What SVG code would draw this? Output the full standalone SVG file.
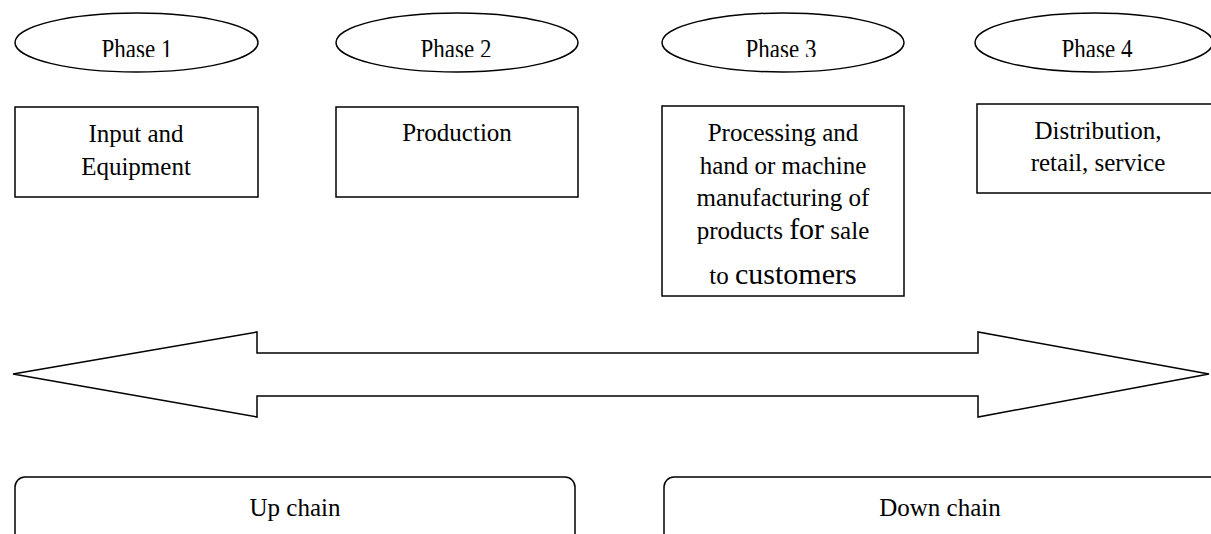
<svg xmlns="http://www.w3.org/2000/svg" width="1211" height="534" viewBox="0 0 1211 534">
  <style>
    .shape { fill: #ffffff; stroke: #000000; stroke-width: 1.5; }
    .label { font-family: "Liberation Serif", "Times New Roman", serif; font-size: 25px; fill: #000000; text-anchor: middle; }
    .phase { font-family: "Liberation Serif", "Times New Roman", serif; font-size: 23px; fill: #000000; text-anchor: middle; }
  </style>
  <defs>
    <!-- phase captions are cut at the baseline of their text frame -->
    <clipPath id="phaseClip"><rect x="0" y="0" width="1211" height="57"/></clipPath>
  </defs>

  <rect width="1211" height="534" fill="#ffffff"/>

  <!-- phase ellipses -->
  <g id="phase1">
    <ellipse class="shape" cx="136.5" cy="42.5" rx="121.5" ry="29.5"/>
    <g clip-path="url(#phaseClip)">
      <text class="phase" transform="translate(137 58) scale(1 1.2)">Phase 1</text>
    </g>
  </g>
  <g id="phase2">
    <ellipse class="shape" cx="457" cy="42.5" rx="121" ry="29.5"/>
    <g clip-path="url(#phaseClip)">
      <text class="phase" transform="translate(456 58) scale(1 1.2)">Phase 2</text>
    </g>
  </g>
  <g id="phase3">
    <ellipse class="shape" cx="783" cy="42.5" rx="121" ry="29.5"/>
    <g clip-path="url(#phaseClip)">
      <text class="phase" transform="translate(781 58) scale(1 1.2)">Phase 3</text>
    </g>
  </g>
  <g id="phase4">
    <ellipse class="shape" cx="1094" cy="42.5" rx="119" ry="29.5"/>
    <g clip-path="url(#phaseClip)">
      <text class="phase" transform="translate(1097 58) scale(1 1.2)">Phase 4</text>
    </g>
  </g>

  <!-- stage boxes -->
  <g id="input">
    <rect class="shape" x="15" y="107" width="243" height="90"/>
    <text class="label" x="136" y="142">Input and</text>
    <text class="label" x="136" y="175">Equipment</text>
  </g>
  <g id="production">
    <rect class="shape" x="336" y="107" width="242" height="90"/>
    <text class="label" x="457" y="141">Production</text>
  </g>
  <g id="processing">
    <rect class="shape" x="662" y="106" width="242" height="190"/>
    <text class="label" x="783" y="141">Processing and</text>
    <text class="label" x="783" y="174">hand or machine</text>
    <text class="label" x="783" y="206">manufacturing of</text>
    <text class="label" x="783" y="239">products <tspan font-size="30">for</tspan> sale</text>
    <text class="label" x="783" y="284">to <tspan font-size="30">customers</tspan></text>
  </g>
  <g id="distribution">
    <rect class="shape" x="977" y="104" width="242" height="89"/>
    <text class="label" x="1098" y="139">Distribution,</text>
    <text class="label" x="1098" y="171">retail, service</text>
  </g>

  <!-- double-headed arrow spanning the chain -->
  <g id="connectors">
    <polygon class="shape" points="13,374 257,332 257,353 978,353 978,332 1209,374 978,417 978,396 257,396 257,417"/>
  </g>

  <!-- chain direction boxes -->
  <g id="upchain">
    <rect class="shape" x="15" y="477" width="560" height="80" rx="10" ry="10"/>
    <text class="label" x="295" y="516">Up chain</text>
  </g>
  <g id="downchain">
    <rect class="shape" x="664" y="477" width="560" height="80" rx="10" ry="10"/>
    <text class="label" x="940" y="516">Down chain</text>
  </g>
</svg>
